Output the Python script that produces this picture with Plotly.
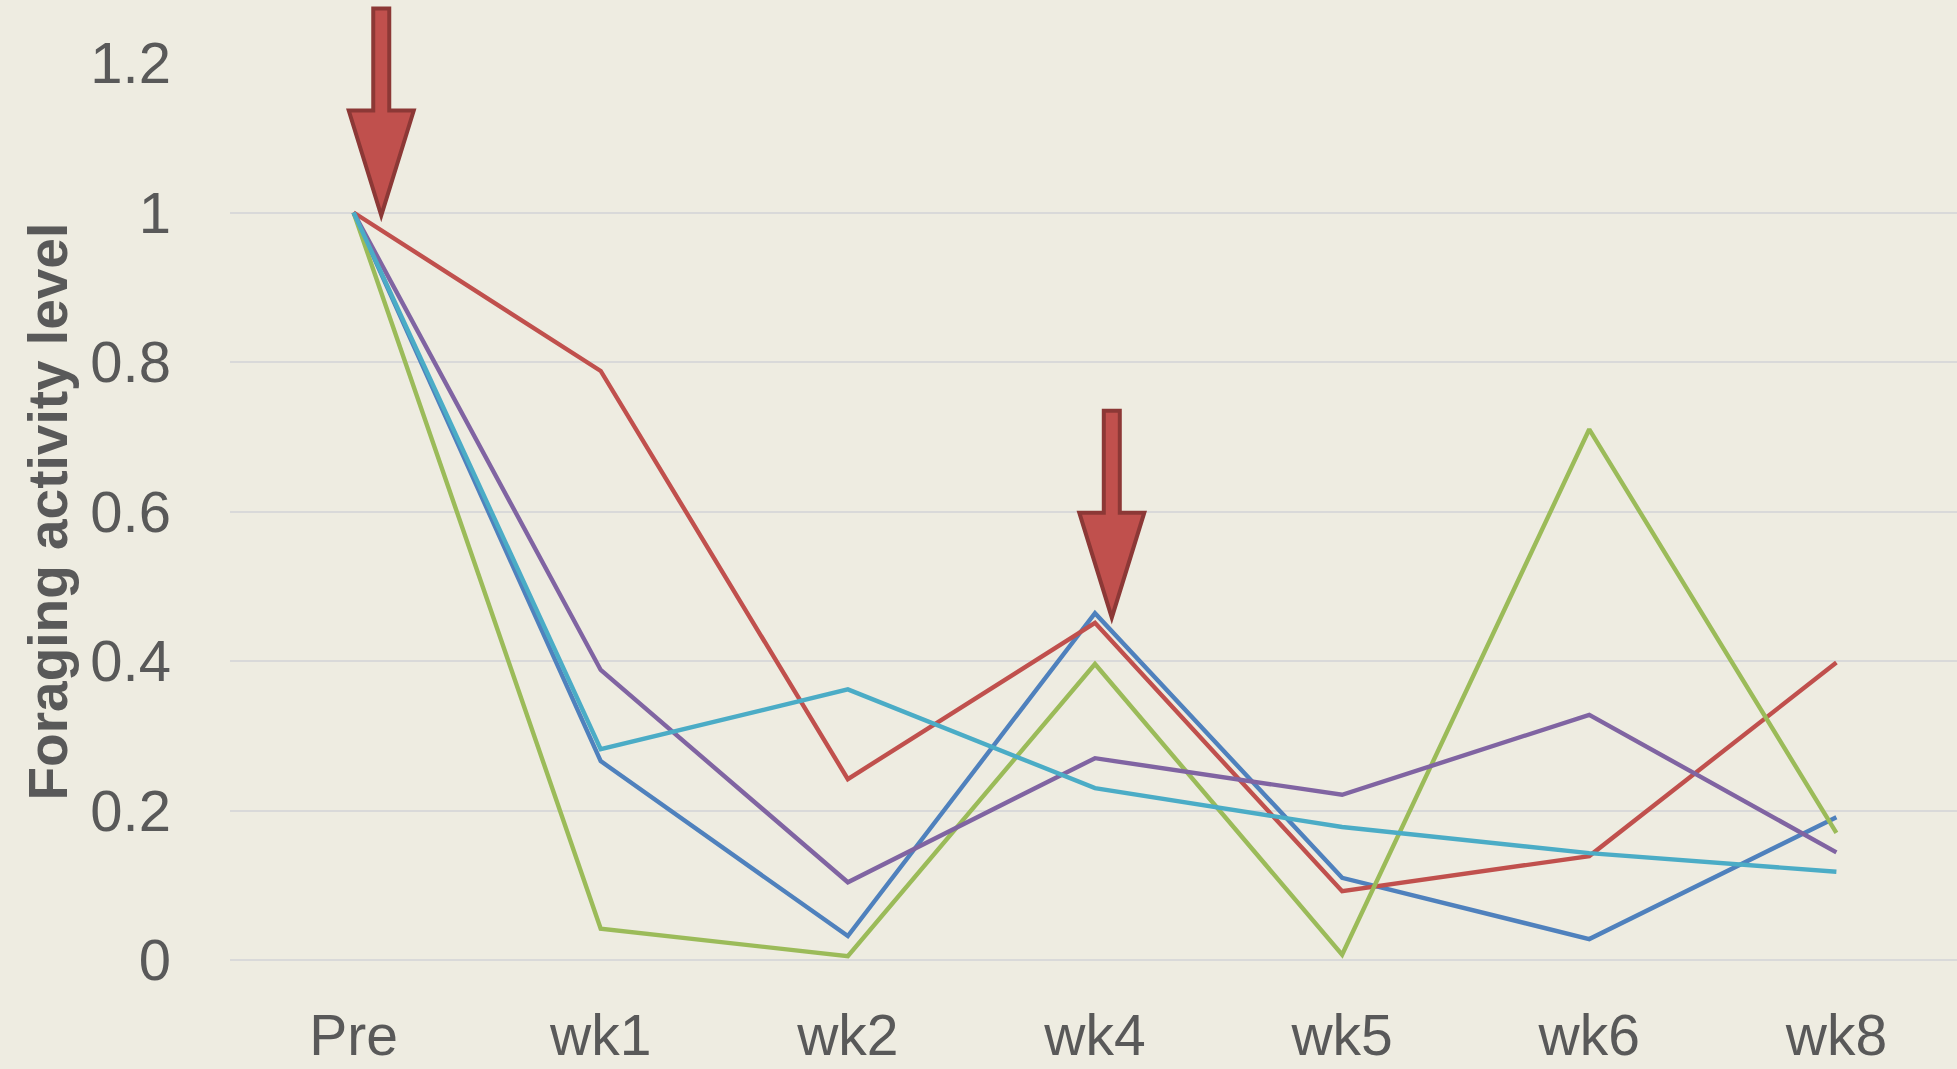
import plotly.graph_objects as go

weeks = ["Pre", "wk1", "wk2", "wk4", "wk5", "wk6", "wk8"]

series_1 = [1.0, 0.266, 0.032, 0.464, 0.110, 0.028, 0.191]   # blue
series_2 = [1.0, 0.788, 0.242, 0.451, 0.092, 0.139, 0.398]   # red
series_3 = [1.0, 0.042, 0.005, 0.396, 0.007, 0.710, 0.170]   # green
series_4 = [1.0, 0.388, 0.104, 0.270, 0.221, 0.328, 0.144]   # purple
series_5 = [1.0, 0.282, 0.362, 0.230, 0.178, 0.143, 0.118]   # cyan

y_ticks = [0, 0.2, 0.4, 0.6, 0.8, 1, 1.2]
y_labels = ["0", "0.2", "0.4", "0.6", "0.8", "1", "1.2"]

colors = ["#4F81BD", "#C0504D", "#9BBB59", "#8064A2", "#4BACC6"]
text_col = "#595959"
font = "Liberation Sans"
y_top = 1.2

fig = go.Figure()
xs = list(range(len(weeks)))
for ys, c in zip([series_1, series_2, series_3, series_4, series_5], colors):
    fig.add_trace(go.Scatter(x=xs, y=ys, mode="lines",
                             line=dict(color=c, width=4.4), showlegend=False))


# block arrow, tip at the anchor, pointing down (pixel sizes)
def arrow_path(half_shaft=8, half_head=32.5, head_h=105, length=207):
    w, H, h, L = half_shaft, half_head, head_h, length
    return (f"M 0,0 L {-H},{h} L {-w},{h} L {-w},{L} "
            f"L {w},{L} L {w},{h} L {H},{h} Z")


# yref paper so the first arrow is not clipped at the top of the plot
for ax, ay in [(0.112, 0.996), (3.068, 0.458)]:
    fig.add_shape(type="path", path=arrow_path(),
                  xref="x", yref="paper", xsizemode="pixel", ysizemode="pixel",
                  xanchor=ax, yanchor=ay / y_top, layer="above",
                  fillcolor="#C0504D", line=dict(color="#8C3836", width=4))

fig.add_annotation(text="<b>Foraging activity level</b>", textangle=-90,
                   xref="paper", yref="paper", x=0, y=0.5, xshift=-183,
                   xanchor="center", yanchor="middle", showarrow=False,
                   font=dict(family=font, size=55, color=text_col))

fig.update_xaxes(range=[-0.5, 6.488], tickmode="array", tickvals=xs, ticktext=weeks,
                 showgrid=False, zeroline=False, showline=False,
                 ticks="", ticklabelstandoff=37,
                 tickfont=dict(family=font, size=57, color=text_col))
fig.update_yaxes(range=[0, y_top], tickvals=y_ticks, ticktext=y_labels,
                 showgrid=True, gridcolor="#D9D9D9", gridwidth=2,
                 zeroline=True, zerolinecolor="#D9D9D9", zerolinewidth=2,
                 showline=False, ticks="", ticklabelstandoff=58,
                 tickfont=dict(family=font, size=58, color=text_col))

fig.update_layout(width=1957, height=1069,
                  margin=dict(l=230, r=0, t=63, b=109, autoexpand=False),
                  paper_bgcolor="#EEECE1", plot_bgcolor="#EEECE1")

fig.write_html("out.html", config={"displayModeBar": False},
               post_script="document.body.style.margin='0';")
